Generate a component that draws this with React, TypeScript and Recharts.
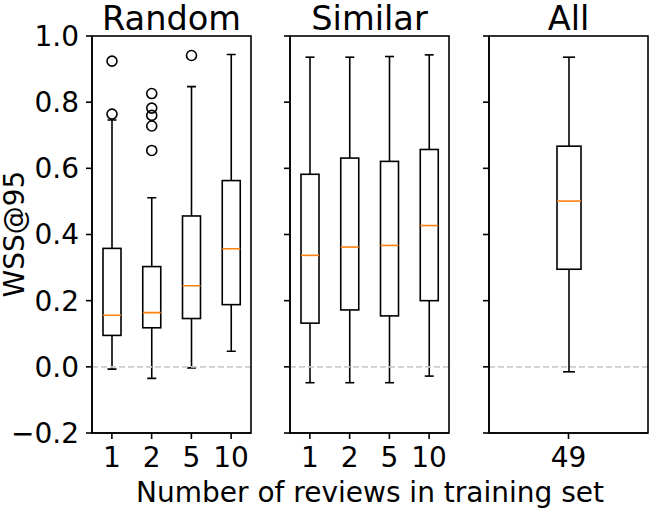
import { ComposedChart, Bar, XAxis, YAxis, ReferenceLine } from 'recharts'

// Values (WSS@95 per training-set size)
const randomCats = ['1', '2', '5', '10']
const randomLow = [-0.007, -0.035, -0.003, 0.047]
const randomQ1 = [0.095, 0.118, 0.146, 0.188]
const randomMed = [0.156, 0.164, 0.245, 0.357]
const randomQ3 = [0.358, 0.303, 0.456, 0.563]
const randomHigh = [0.746, 0.511, 0.847, 0.944]
const randomFliers = [[0.924, 0.764], [0.826, 0.782, 0.76, 0.728, 0.654], [0.941], []]

const similarCats = ['1', '2', '5', '10']
const similarLow = [-0.048, -0.048, -0.048, -0.028]
const similarQ1 = [0.132, 0.172, 0.154, 0.2]
const similarMed = [0.337, 0.362, 0.367, 0.427]
const similarQ3 = [0.582, 0.631, 0.621, 0.657]
const similarHigh = [0.936, 0.936, 0.938, 0.943]
const similarFliers = [[], [], [], []]

const allCats = ['49']
const allLow = [-0.015]
const allQ1 = [0.295]
const allMed = [0.501]
const allQ3 = [0.667]
const allHigh = [0.936]
const allFliers = [[]]

const yTicks = [-0.2, 0, 0.2, 0.4, 0.6, 0.8, 1.0]

const FONT = 'DejaVu Sans'
const LW = 1.6
const PLOT_TOP = 36
const PLOT_H = 397
const PLOT_W = 159

function buildRows(cats: string[], low: number[], q1: number[], med: number[], q3: number[], high: number[], fliers: number[][]) {
  return cats.map((c, i) => ({ cat: c, low: low[i], q1: q1[i], med: med[i], q3: q3[i], high: high[i], fliers: fliers[i] }))
}

const randomRows = buildRows(randomCats, randomLow, randomQ1, randomMed, randomQ3, randomHigh, randomFliers)
const similarRows = buildRows(similarCats, similarLow, similarQ1, similarMed, similarQ3, similarHigh, similarFliers)
const allRows = buildRows(allCats, allLow, allQ1, allMed, allQ3, allHigh, allFliers)

function makeBoxShape(capW: number) {
  return (props: any) => {
    const { x, y, width, height, payload } = props
    const lo = payload.low
    const hi = payload.high
    const top = Math.min(y, y + height)
    const h = Math.abs(height)
    // linear scale: pixel of a value from the bar's [low, high] extent
    const py = (v: number) => top + ((hi - v) / (hi - lo)) * h
    const cx = x + width / 2
    return (
      <g>
        <line x1={cx} x2={cx} y1={py(hi)} y2={py(payload.q3)} stroke="#000" strokeWidth={LW} />
        <line x1={cx} x2={cx} y1={py(payload.q1)} y2={py(lo)} stroke="#000" strokeWidth={LW} />
        <line x1={cx - capW / 2} x2={cx + capW / 2} y1={py(hi)} y2={py(hi)} stroke="#000" strokeWidth={LW} />
        <line x1={cx - capW / 2} x2={cx + capW / 2} y1={py(lo)} y2={py(lo)} stroke="#000" strokeWidth={LW} />
        <rect x={x} y={py(payload.q3)} width={width} height={py(payload.q1) - py(payload.q3)} fill="none" stroke="#000" strokeWidth={LW} />
        <line x1={x} x2={x + width} y1={py(payload.med)} y2={py(payload.med)} stroke="#ff7f0e" strokeWidth={LW} />
        {payload.fliers.map((f: number, i: number) => (
          <circle key={i} cx={cx} cy={py(f)} r={5} fill="none" stroke="#000" strokeWidth={LW} />
        ))}
      </g>
    )
  }
}

const fmt = (v: number) => (v < 0 ? '\u2212' + Math.abs(v).toFixed(1) : v.toFixed(1))

function Panel({ rows, left, yWidth, showLabels, boxW }: any) {
  const width = yWidth + PLOT_W + 9
  return (
    <div style={{ position: 'absolute', left, top: 0 }}>
      <ComposedChart width={width} height={508} data={rows} margin={{ top: PLOT_TOP, right: 9, bottom: 35, left: 0 }}>
        <XAxis
          dataKey="cat"
          height={40}
          tickSize={6}
          tickMargin={8}
          axisLine={{ stroke: '#000', strokeWidth: LW }}
          tickLine={{ stroke: '#000', strokeWidth: LW }}
          tick={{ fill: '#000', fontSize: 28, fontFamily: FONT }}
        />
        <YAxis
          type="number"
          domain={[-0.2, 1.0]}
          ticks={yTicks}
          allowDataOverflow
          width={yWidth}
          tickSize={6}
          tickMargin={7}
          tickFormatter={showLabels ? fmt : () => ''}
          axisLine={{ stroke: '#000', strokeWidth: LW }}
          tickLine={{ stroke: '#000', strokeWidth: LW }}
          tick={{ fill: '#000', fontSize: 28, fontFamily: FONT }}
        />
        <ReferenceLine y={0} stroke="#cccccc" strokeWidth={LW} strokeDasharray="6 3" />
        <Bar
          dataKey={(d: any) => [d.low, d.high]}
          barSize={boxW}
          shape={makeBoxShape(boxW / 2)}
          isAnimationActive={false}
        />
      </ComposedChart>
    </div>
  )
}

const panelLefts = [92, 290, 489]

export default function App() {
  return (
    <div style={{ position: 'absolute', left: 0, top: 0, width: 669, height: 508, background: '#fff', fontFamily: FONT }}>
      <Panel rows={randomRows} left={0} yWidth={92} showLabels boxW={18} />
      <Panel rows={similarRows} left={284} yWidth={6} showLabels={false} boxW={18} />
      <Panel rows={allRows} left={483} yWidth={6} showLabels={false} boxW={24} />
      <svg width={669} height={508} style={{ position: 'absolute', left: 0, top: 0, pointerEvents: 'none' }}>
        {panelLefts.map((px) => (
          <rect key={px} x={px} y={PLOT_TOP} width={PLOT_W} height={PLOT_H} fill="none" stroke="#000" strokeWidth={LW} />
        ))}
        <g fontFamily={FONT} fill="#000" textAnchor="middle">
          <text x={171.5} y={30} fontSize={33.6}>Random</text>
          <text x={369.5} y={30} fontSize={33.6}>Similar</text>
          <text x={568.5} y={30} fontSize={33.6}>All</text>
          <text x={370} y={501.5} fontSize={28}>Number of reviews in training set</text>
          <text transform="translate(23.5,234) rotate(-90)" fontSize={28}>WSS@95</text>
        </g>
      </svg>
    </div>
  )
}
